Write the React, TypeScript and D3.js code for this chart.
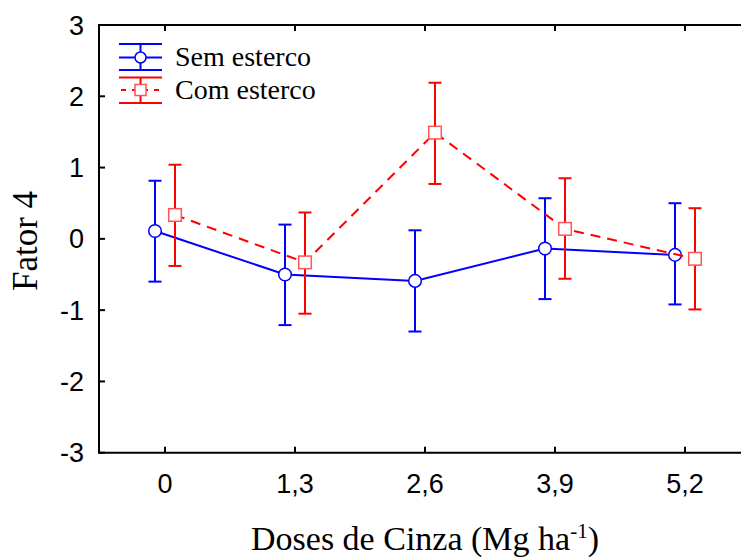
import React from "react";
import * as d3 from "d3";

const doses = [0, 1.3, 2.6, 3.9, 5.2];
const doseLabels = ["0", "1,3", "2,6", "3,9", "5,2"];
const semMean = [0.11, -0.5, -0.59, -0.135, -0.225];
const semLow = [-0.6, -1.21, -1.3, -0.845, -0.92];
const semHigh = [0.815, 0.2, 0.12, 0.57, 0.5];
const comMean = [0.335, -0.33, 1.49, 0.14, -0.28];
const comLow = [-0.38, -1.05, 0.77, -0.56, -0.99];
const comHigh = [1.04, 0.37, 2.19, 0.85, 0.43];
const yTicks = [-3, -2, -1, 0, 1, 2, 3];

const W = 741;
const H = 558;
const left = 99;
const top = 25;
const bottom = 452.7;
const right = 741;

export default function App() {
  const x = d3.scaleLinear().domain([-0.66, 5.76]).range([left, right]);
  const y = d3.scaleLinear().domain([-3, 3]).range([bottom, top]);
  const off = 10;
  const cap = 6.5;

  const semPts = doses.map((d, i) => ({ x: x(d) - off, m: semMean[i], lo: semLow[i], hi: semHigh[i] }));
  const comPts = doses.map((d, i) => ({ x: x(d) + off, m: comMean[i], lo: comLow[i], hi: comHigh[i] }));
  const line = d3.line<{ x: number; m: number }>().x((p) => p.x).y((p) => y(p.m));

  const blue = "#0000ff";
  const red = "#ff0000";
  const serif = "'Liberation Serif', 'Times New Roman', serif";
  const sans = "'Liberation Sans', Arial, sans-serif";

  const errBars = (pts: typeof semPts, color: string) =>
    pts.map((p, i) => (
      <g key={i} stroke={color} strokeWidth={2}>
        <line x1={p.x} x2={p.x} y1={y(p.lo)} y2={y(p.hi)} />
        <line x1={p.x - cap} x2={p.x + cap} y1={y(p.lo)} y2={y(p.lo)} />
        <line x1={p.x - cap} x2={p.x + cap} y1={y(p.hi)} y2={y(p.hi)} />
      </g>
    ));

  return (
    <svg width={W} height={H} style={{ position: "absolute", left: 0, top: 0, background: "#fff" }}>
      <rect x={0} y={0} width={W} height={H} fill="#fff" />
      {/* axes */}
      <g stroke="#000" strokeWidth={2} fill="none">
        <line x1={left} x2={right} y1={top} y2={top} />
        <line x1={left} x2={right} y1={bottom} y2={bottom} />
        <line x1={left} x2={left} y1={top - 1} y2={bottom + 1} />
        {doses.map((d, i) => (
          <g key={i}>
            <line x1={x(d)} x2={x(d)} y1={bottom} y2={bottom - 6} />
            <line x1={x(d)} x2={x(d)} y1={top} y2={top + 6} />
          </g>
        ))}
        {yTicks.map((t) => (
          <line key={t} x1={left} x2={left + 6} y1={y(t)} y2={y(t)} />
        ))}
      </g>
      {doseLabels.map((l, i) => (
        <text key={l} x={x(doses[i])} y={493} textAnchor="middle" fontFamily={sans} fontSize={27} fill="#000">
          {l}
        </text>
      ))}
      {yTicks.map((t) => (
        <text key={t} x={84} y={y(t) + 9.5} textAnchor="end" fontFamily={sans} fontSize={27} fill="#000">
          {String(t)}
        </text>
      ))}
      <text
        transform={`translate(37,241) rotate(-90)`}
        textAnchor="middle"
        fontFamily={serif}
        fontSize={35}
        fill="#000"
      >
        Fator 4
      </text>
      <text x={425} y={550} textAnchor="middle" fontFamily={serif} fontSize={34} fill="#000">
        Doses de Cinza (Mg ha
        <tspan dy={-12} fontSize={21}>-1</tspan>
        <tspan dy={12}>)</tspan>
      </text>

      {/* Sem esterco */}
      <path d={line(semPts) || ""} fill="none" stroke={blue} strokeWidth={2} />
      {errBars(semPts, blue)}
      {semPts.map((p, i) => (
        <circle key={i} cx={p.x} cy={y(p.m)} r={6.3} fill="#fff" stroke={blue} strokeWidth={1.5} />
      ))}

      {/* Com esterco */}
      <path d={line(comPts) || ""} fill="none" stroke={red} strokeWidth={2} strokeDasharray="10,7" />
      {errBars(comPts, red)}
      {comPts.map((p, i) => (
        <rect key={i} x={p.x - 6.3} y={y(p.m) - 6.3} width={12.6} height={12.6} fill="#fff" stroke="#ff5555" strokeWidth={1.5} />
      ))}

      {/* legend */}
      <g stroke={blue} strokeWidth={2}>
        <line x1={119} x2={162} y1={44} y2={44} />
        <line x1={119} x2={162} y1={57.5} y2={57.5} />
        <line x1={119} x2={162} y1={70} y2={70} />
        <line x1={140.5} x2={140.5} y1={44} y2={70} />
      </g>
      <circle cx={140.5} cy={57.5} r={5.5} fill="#fff" stroke={blue} strokeWidth={1.5} />
      <g stroke={red} strokeWidth={2}>
        <line x1={119} x2={162} y1={77.5} y2={77.5} />
        <line x1={119} x2={162} y1={103} y2={103} />
        <line x1={140.5} x2={140.5} y1={77.5} y2={103} />
        <line x1={119} x2={162} y1={90} y2={90} strokeDasharray="5,6" strokeDashoffset={-2} />
      </g>
      <rect x={135} y={84.5} width={11} height={11} fill="#fff" stroke="#ff5555" strokeWidth={1.5} />
      <text x={175} y={66} fontFamily={serif} fontSize={28} fill="#000">
        Sem esterco
      </text>
      <text x={175} y={99} fontFamily={serif} fontSize={28} fill="#000">
        Com esterco
      </text>
    </svg>
  );
}
